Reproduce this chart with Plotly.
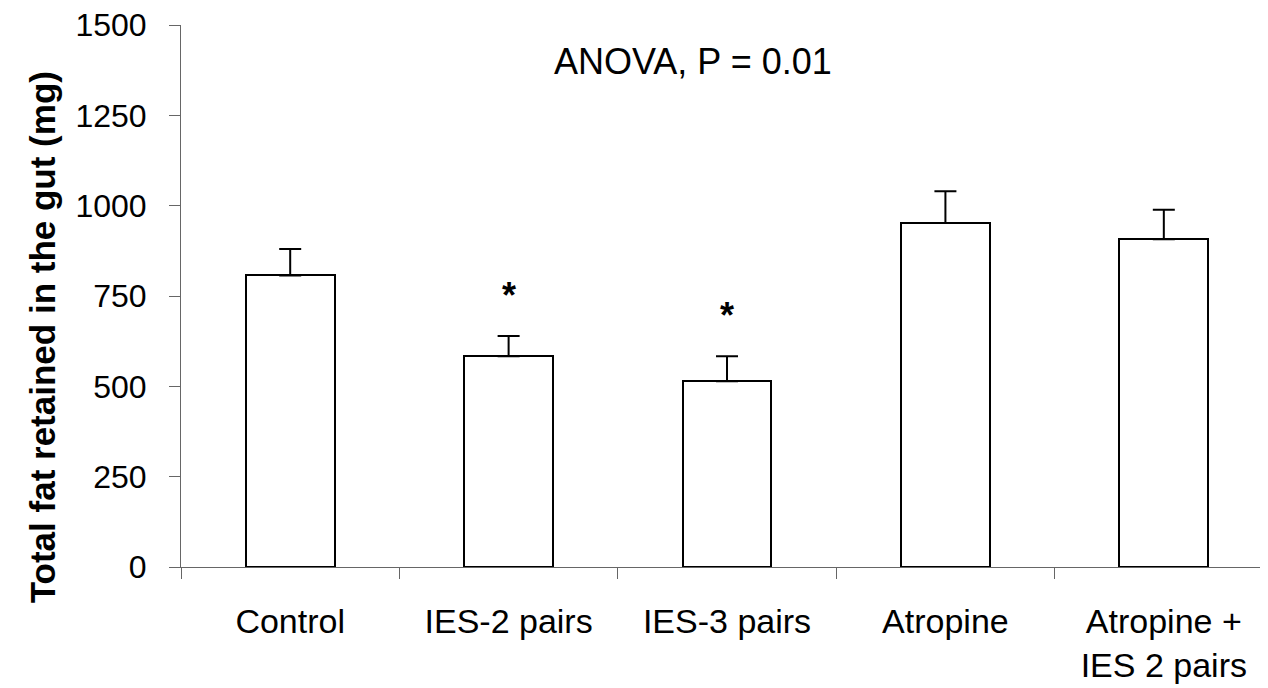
import plotly.graph_objects as go

categories = ["Control", "IES-2 pairs", "IES-3 pairs", "Atropine", "Atropine +<br>IES 2 pairs"]
fat_mg = [807, 583, 514, 952, 907]
sem_mg = [73, 56, 69, 88, 82]
significant = [False, True, True, False, False]
y_ticks = [0, 250, 500, 750, 1000, 1250, 1500]

FONT = "Liberation Sans, Arial, sans-serif"

fig = go.Figure()
fig.add_trace(go.Bar(
    x=categories,
    y=fat_mg,
    width=0.407,
    marker=dict(color="white", line=dict(color="black", width=2)),
    error_y=dict(type="data", array=sem_mg, arrayminus=[0] * len(sem_mg),
                 symmetric=False, color="black", thickness=2, width=11),
    showlegend=False,
))

for cat, val, err, sig in zip(categories, fat_mg, sem_mg, significant):
    if sig:
        fig.add_annotation(x=cat, y=val + err + 112, text="<b>*</b>", showarrow=False,
                           font=dict(family=FONT, size=36, color="black"),
                           xanchor="center", yanchor="middle")

fig.add_annotation(x=0.471, y=0.932, xref="paper", yref="paper",
                   text="ANOVA, P = 0.01", showarrow=False,
                   font=dict(family=FONT, size=36, color="black"),
                   xanchor="center", yanchor="middle")

# y-axis title (placed as rotated annotation to match offset position)
fig.add_annotation(x=0, y=0.424, xref="paper", yref="paper", xshift=-139,
                   text="<b>Total fat retained in the gut (mg)</b>", textangle=-90,
                   showarrow=False, font=dict(family=FONT, size=35, color="black"),
                   xanchor="center", yanchor="middle")

fig.update_layout(
    width=1260, height=680, autosize=False,
    margin=dict(l=173, r=0, t=17, b=121),
    paper_bgcolor="white", plot_bgcolor="white",
    font=dict(family=FONT, color="black"),
    bargap=0,
)
fig.update_xaxes(
    type="category",
    range=[-0.5, 4.477],
    showline=True, linecolor="#666666", linewidth=1,
    ticks="outside", ticklen=11, tickcolor="#666666", tickwidth=1,
    tickson="boundaries",
    tickfont=dict(family=FONT, size=34, color="black"),
    ticklabelstandoff=24,
    showgrid=False, zeroline=False,
    automargin=False,
)
fig.update_yaxes(
    range=[0, 1500],
    tickvals=y_ticks,
    showline=True, linecolor="#666666", linewidth=1,
    ticks="outside", ticklen=11, tickcolor="#666666", tickwidth=1,
    tickfont=dict(family=FONT, size=32, color="black"),
    ticklabelstandoff=16,
    ticklabeloverflow="allow",
    showgrid=False, zeroline=False,
    automargin=False,
)

fig.write_html("out.html")
